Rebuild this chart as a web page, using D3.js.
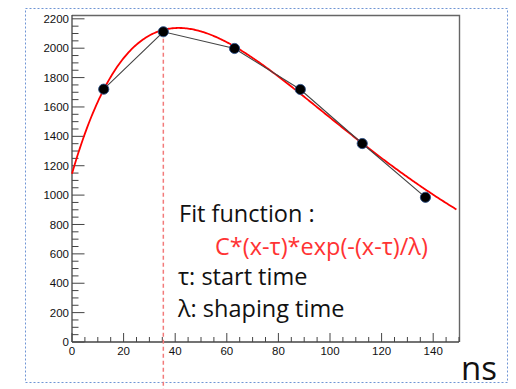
<!DOCTYPE html>
<html>
<head>
<meta charset="utf-8">
<script src="https://cdn.jsdelivr.net/npm/d3@7"></script>
<style>
  html, body { margin: 0; padding: 0; background: #ffffff; }
  svg { display: block; }
  .tick-label { font-family: "Liberation Sans", Arial, sans-serif; font-size: 11.5px; fill: #111; }
  .note { font-family: "Open Sans", sans-serif; font-size: 23.5px; }
</style>
</head>
<body>
<svg id="chart" width="516" height="389"></svg>
<script>
// Measured samples (time in ns, amplitude in ADC counts)
const sampleTimes = [12.3, 35.4, 63.0, 88.5, 112.5, 137.0];
const sampleValues = [1721, 2112, 1998, 1719, 1351, 985];

// Fitted shaper response: C*(x-tau)*exp(-(x-tau)/lambda)
const fitC = 104.8;
const fitTau = -14.1;
const fitLambda = 55.45;
const fitRange = [0, 149];

// Axis ticks
const xMajorTicks = [0, 20, 40, 60, 80, 100, 120, 140];
const yMajorTicks = [0, 200, 400, 600, 800, 1000, 1200, 1400, 1600, 1800, 2000, 2200];

const noteLines = ["Fit function :", "C*(x-τ)*exp(-(x-τ)/λ)", "τ: start time", "λ: shaping time"];
const unitLabel = "ns";

const svg = d3.select("#chart");
const frame = { left: 72, right: 459, top: 15, bottom: 342 };

const x = d3.scaleLinear().domain([0, 150]).range([frame.left, frame.right]);
const y = d3.scaleLinear().domain([0, 2226]).range([frame.bottom, frame.top]);

// Outer dotted box
svg.append("rect")
  .attr("x", 25.5).attr("y", 8.5).attr("width", 482).attr("height", 374)
  .attr("fill", "none").attr("stroke", "#6f95d4").attr("stroke-width", 1)
  .attr("stroke-dasharray", "2,2");

// Frame (top and right sides)
svg.append("path")
  .attr("d", `M${frame.left},${frame.top + 0.5}H${frame.right + 0.5}V${frame.bottom}`)
  .attr("fill", "none").attr("stroke", "#666").attr("stroke-width", 1.4);

// Y axis with inward ticks
const yMinor = d3.range(0, 2226, 50).filter(v => v % 200 !== 0);
const yAxisG = svg.append("g").attr("transform", `translate(${frame.left},0)`);
yAxisG.append("line").attr("x1", 0).attr("x2", 0).attr("y1", frame.top).attr("y2", frame.bottom)
  .attr("stroke", "#444").attr("stroke-width", 1.3);
yAxisG.selectAll("line.minor").data(yMinor).join("line").attr("class", "minor")
  .attr("x1", 0).attr("x2", 6.5).attr("y1", d => y(d)).attr("y2", d => y(d))
  .attr("stroke", "#444").attr("stroke-width", 1);
yAxisG.selectAll("line.major").data(yMajorTicks).join("line").attr("class", "major")
  .attr("x1", 0).attr("x2", 12.5).attr("y1", d => y(d)).attr("y2", d => y(d))
  .attr("stroke", "#444").attr("stroke-width", 1);
yAxisG.selectAll("text").data(yMajorTicks).join("text").attr("class", "tick-label")
  .attr("x", -3).attr("y", d => y(d)).attr("dy", "0.36em").attr("text-anchor", "end")
  .text(d => d);

// X axis with inward ticks
const xMinor = d3.range(0, 151, 5).filter(v => v % 20 !== 0);
const xAxisG = svg.append("g").attr("transform", `translate(0,${frame.bottom})`);
xAxisG.append("line").attr("x1", frame.left).attr("x2", frame.right).attr("y1", 0).attr("y2", 0)
  .attr("stroke", "#444").attr("stroke-width", 1.3);
xAxisG.selectAll("line.minor").data(xMinor).join("line").attr("class", "minor")
  .attr("x1", d => x(d)).attr("x2", d => x(d)).attr("y1", 0).attr("y2", -5)
  .attr("stroke", "#444").attr("stroke-width", 1);
xAxisG.selectAll("line.major").data(xMajorTicks).join("line").attr("class", "major")
  .attr("x1", d => x(d)).attr("x2", d => x(d)).attr("y1", 0).attr("y2", -9)
  .attr("stroke", "#444").attr("stroke-width", 1);
xAxisG.selectAll("text").data(xMajorTicks).join("text").attr("class", "tick-label")
  .attr("x", d => x(d)).attr("y", 13).attr("text-anchor", "middle")
  .text(d => d);

// Dashed marker at the peak sample
const peakIdx = d3.maxIndex(sampleValues);
svg.append("line")
  .attr("x1", x(sampleTimes[peakIdx])).attr("x2", x(sampleTimes[peakIdx]))
  .attr("y1", y(sampleValues[peakIdx])).attr("y2", 389)
  .attr("stroke", "#f27b7b").attr("stroke-width", 1.5).attr("stroke-dasharray", "4,3");

// Fit curve
const fitFn = t => fitC * (t - fitTau) * Math.exp(-(t - fitTau) / fitLambda);
const fitPts = d3.range(fitRange[0], fitRange[1] + 0.001, 0.5).map(t => [t, fitFn(t)]);
svg.append("path")
  .attr("d", d3.line().x(d => x(d[0])).y(d => y(d[1]))(fitPts))
  .attr("fill", "none").attr("stroke", "#ff0000").attr("stroke-width", 1.8);

// Sample polyline and markers
const samples = sampleTimes.map((t, i) => [t, sampleValues[i]]);
svg.append("path")
  .attr("d", d3.line().x(d => x(d[0])).y(d => y(d[1]))(samples))
  .attr("fill", "none").attr("stroke", "#444").attr("stroke-width", 1.1);
svg.selectAll("circle.sample").data(samples).join("circle").attr("class", "sample")
  .attr("cx", d => x(d[0])).attr("cy", d => y(d[1])).attr("r", 5.1)
  .attr("fill", "#000").attr("stroke", "#2b4f86").attr("stroke-width", 0.9);

// Annotation text
const notePos = [[179, 222, "#111"], [215, 255, "#ff3333"], [178, 285, "#111"], [178, 317, "#111"]];
noteLines.forEach((s, i) => {
  svg.append("text").attr("class", "note")
    .attr("x", notePos[i][0]).attr("y", notePos[i][1])
    .attr("fill", notePos[i][2]).text(s);
});

svg.append("text")
  .attr("x", 461).attr("y", 380).attr("fill", "#111")
  .style("font-family", "'Open Sans', sans-serif").style("font-size", "33px")
  .text(unitLabel);
</script>
</body>
</html>
